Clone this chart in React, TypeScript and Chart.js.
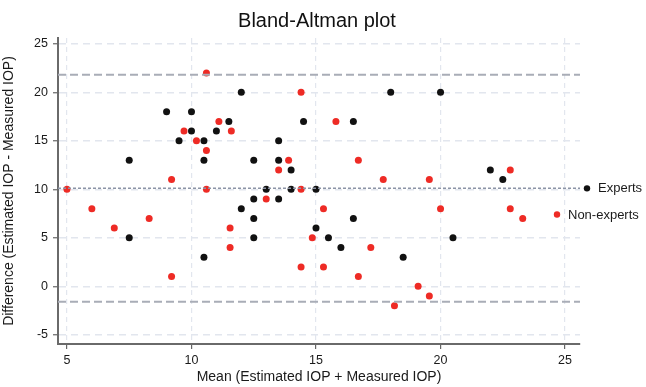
import React, { useEffect, useRef } from "react";
import { Chart, registerables } from "chart.js";

Chart.register(...registerables);

// ---- data ----
const expertsX = [9, 10, 11.5, 10, 11, 9.5, 10.5, 7.5, 10.5, 12, 14.5, 16.5, 13.5, 12.5, 13.5, 18, 20, 7.5, 10.5, 14, 13, 14, 15, 12.5, 13.5, 12, 12.5, 16.5, 15, 12.5, 15.5, 16, 22, 22.5, 20.5, 18.5];
const expertsY = [18, 18, 17, 16, 16, 15, 15, 13, 13, 20, 17, 17, 15, 13, 13, 20, 20, 5, 3, 12, 10, 10, 10, 9, 9, 8, 7, 7, 6, 5, 5, 4, 12, 11, 5, 3];

const nonExpertsX = [10.6, 11.1, 9.7, 11.6, 10.2, 10.6, 14.4, 15.8, 13.9, 16.7, 9.2, 5, 10.6, 6, 8.3, 6.9, 11.55, 11.55, 9.2, 13.5, 14.4, 13, 15.3, 14.85, 17.2, 14.4, 15.3, 16.7, 17.7, 19.55, 22.8, 20, 22.8, 23.3, 19.1, 19.55, 18.15];
const nonExpertsY = [22, 17, 16, 16, 15, 14, 20, 17, 13, 13, 11, 10, 10, 8, 7, 6, 6, 4, 1, 12, 10, 9, 8, 5, 4, 2, 2, 1, 11, 11, 12, 8, 8, 7, 0, -1, -2];

const upperLimit = 21.8;
const meanDiff = 10.1;
const lowerLimit = -1.6;

const xTicks = [5, 10, 15, 20, 25];
const yTicks = [-5, 0, 5, 10, 15, 20, 25];
const xRange = [4.64, 25.6];
const yRange = [-5.95, 25.6];

const seriesLabels = ["Experts", "Non-experts"];
const seriesColors = ["#111111", "#ee2b25"];

const toPoints = (xs: number[], ys: number[]) => xs.map((x, i) => ({ x, y: ys[i] }));
const hLine = (v: number) => [{ x: xRange[0], y: v }, { x: xRange[1], y: v }];

const FONT = "'Liberation Sans', Arial, sans-serif";

const sideLegend = {
  id: "sideLegend",
  afterDraw(chart: any) {
    const { ctx, chartArea, scales } = chart;
    const y = scales.y;
    const items = [
      { label: seriesLabels[0], color: seriesColors[0], x: chartArea.right + 7, y: y.getPixelForValue(10.1) },
      { label: seriesLabels[1], color: seriesColors[1], x: chartArea.right - 23, y: y.getPixelForValue(7.4) },
    ];
    ctx.save();
    ctx.font = `13px ${FONT}`;
    ctx.textBaseline = "middle";
    ctx.textAlign = "left";
    for (const it of items) {
      ctx.fillStyle = it.color;
      ctx.beginPath();
      ctx.arc(it.x, it.y, 3.2, 0, Math.PI * 2);
      ctx.fill();
      ctx.fillStyle = "#1a1a1a";
      ctx.fillText(it.label, it.x + 11, it.y + 0.5);
    }
    ctx.restore();
  },
};

export default function App() {
  const ref = useRef<HTMLCanvasElement | null>(null);
  useEffect(() => {
    if (!ref.current) return;
    const chart = new Chart(ref.current, {
      type: "scatter",
      data: {
        datasets: [
          {
            type: "line",
            label: "upper",
            data: hLine(upperLimit),
            borderColor: "#a9adb7",
            borderWidth: 2,
            borderDash: [8, 4],
            pointRadius: 0,
            fill: false,
          } as any,
          {
            type: "line",
            label: "lower",
            data: hLine(lowerLimit),
            borderColor: "#a9adb7",
            borderWidth: 2,
            borderDash: [8, 4],
            pointRadius: 0,
            fill: false,
          } as any,
          {
            type: "line",
            label: "mean",
            data: hLine(meanDiff),
            borderColor: "#8c94a6",
            borderWidth: 1.5,
            borderDash: [3, 2],
            pointRadius: 0,
            fill: false,
          } as any,
          {
            label: seriesLabels[0],
            data: toPoints(expertsX, expertsY),
            backgroundColor: seriesColors[0],
            borderWidth: 0,
            pointRadius: 3.5,
          },
          {
            label: seriesLabels[1],
            data: toPoints(nonExpertsX, nonExpertsY),
            backgroundColor: seriesColors[1],
            borderWidth: 0,
            pointRadius: 3.5,
          },
        ],
      },
      options: {
        animation: false,
        responsive: true,
        maintainAspectRatio: false,
        layout: { padding: { left: 0, right: 12, top: 0, bottom: 0 } },
        plugins: {
          legend: { display: false },
          tooltip: { enabled: false },
          title: {
            display: true,
            text: "Bland-Altman plot",
            color: "#111",
            font: { family: FONT, size: 20, weight: "normal", lineHeight: 1.2 },
            padding: { top: 9, bottom: 5 },
          },
        },
        scales: {
          x: {
            type: "linear",
            min: xRange[0],
            max: xRange[1],
            afterBuildTicks: (axis: any) => {
              axis.ticks = xTicks.map((v) => ({ value: v }));
            },
            afterFit: (axis: any) => {
              axis.height = 43;
            },
            grid: {
              color: "#e2e6ee",
              lineWidth: 1.2,
              tickColor: "#666",
              tickLength: 5,
              tickWidth: 1.2,
            },
            border: { color: "#6a6a6a", width: 2, dash: [5, 4] },
            ticks: {
              color: "#1a1a1a",
              font: { family: FONT, size: 12.5 },
              padding: 4,
              maxRotation: 0,
              callback: (v: any) => String(v),
            },
            title: {
              display: true,
              text: "Mean (Estimated IOP + Measured IOP)",
              color: "#1a1a1a",
              font: { family: FONT, size: 14 },
              padding: { top: 0, bottom: 1 },
            },
          },
          y: {
            type: "linear",
            min: yRange[0],
            max: yRange[1],
            afterBuildTicks: (axis: any) => {
              axis.ticks = yTicks.map((v) => ({ value: v }));
            },
            afterFit: (axis: any) => {
              axis.width = 58;
            },
            grid: {
              color: "#e2e6ee",
              lineWidth: 1.5,
              tickColor: "#666",
              tickLength: 5,
              tickWidth: 1.2,
            },
            border: { color: "#6a6a6a", width: 2, dash: [7, 5] },
            ticks: {
              color: "#1a1a1a",
              font: { family: FONT, size: 12.5 },
              padding: 5,
              callback: (v: any) => String(v),
            },
            title: {
              display: true,
              text: "Difference (Estimated IOP - Measured IOP)",
              color: "#1a1a1a",
              font: { family: FONT, size: 14 },
              padding: { top: 1, bottom: 0 },
            },
          },
          yRight: {
            type: "linear",
            position: "right",
            min: yRange[0],
            max: yRange[1],
            afterFit: (axis: any) => {
              axis.width = 54;
            },
            grid: { display: false, drawTicks: false },
            border: { display: false },
            ticks: { display: false },
          },
        },
      },
      plugins: [sideLegend],
    });
    return () => chart.destroy();
  }, []);

  return (
    <div style={{ position: "fixed", left: 0, top: 0, width: 646, height: 387, background: "#fff" }}>
      <canvas ref={ref} />
    </div>
  );
}
